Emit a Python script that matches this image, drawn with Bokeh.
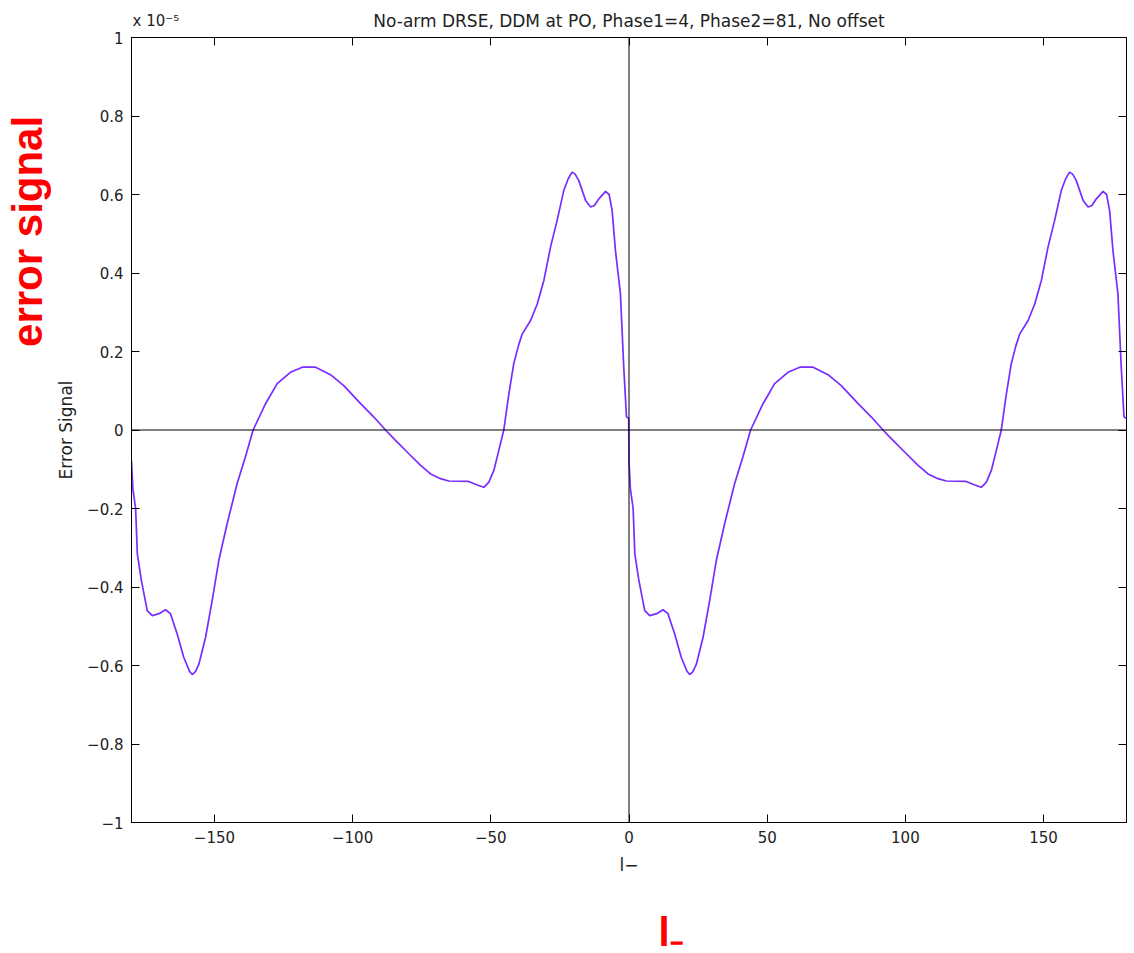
from bokeh.plotting import figure
from bokeh.models import Span, Label, LinearAxis, FixedTicker, Range1d
from bokeh.embed import file_html
from bokeh.resources import INLINE

# phase l- (degrees), first half period
phase_left = [-180, -179.5, -178.5, -177.9, -176.5, -175.5, -174.3, -172.5, -170, -167.7,
              -165.9, -163.5, -161.1, -159, -158, -156.8, -155.6, -153.2, -150.8, -148.4,
              -145.4, -141.8, -138.8, -136, -131.5, -127.3, -122.5, -118.2, -113.4, -108,
              -103.2, -97.1, -92.3, -88.1, -85.1, -80, -75.4, -71.8, -68.2, -65.2,
              -58, -54.9, -52.5, -50.7, -48.9, -47.1, -45.3, -43.5, -41.7, -40,
              -38.6, -35.6, -33.2, -30.8, -28.4, -26, -23.6, -22, -20.6, -19.5,
              -18.2, -15.7, -13.9, -12.5, -10.9, -8.5, -7.2, -6.1, -4.9, -3.1,
              -1.9, -0.9, -0.1]
# error signal (x 1e-5)
signal_left = [-0.08, -0.15, -0.20, -0.315, -0.38, -0.417, -0.46, -0.473, -0.468, -0.458,
               -0.468, -0.519, -0.579, -0.615, -0.623, -0.615, -0.596, -0.528, -0.434, -0.332,
               -0.239, -0.137, -0.069, 0.0, 0.067, 0.118, 0.147, 0.160, 0.160, 0.141,
               0.113, 0.067, 0.033, 0.0, -0.022, -0.058, -0.090, -0.112, -0.124, -0.130,
               -0.131, -0.140, -0.146, -0.133, -0.103, -0.052, 0.0, 0.09, 0.169, 0.215,
               0.245, 0.279, 0.321, 0.381, 0.466, 0.534, 0.610, 0.640, 0.657, 0.652,
               0.636, 0.585, 0.568, 0.572, 0.589, 0.608, 0.600, 0.559, 0.457, 0.347,
               0.16, 0.033, 0.03]
# second half period
phase_right = [0, 0.5, 1.5, 2.1, 3.5, 4.5, 5.7, 7.5, 10, 12.3,
               14.1, 16.5, 18.9, 21, 22, 23.2, 24.4, 26.8, 29.2, 31.6,
               34.6, 38.2, 41.2, 44, 48.5, 52.7, 57.5, 61.8, 66.6, 72,
               76.8, 82.9, 87.7, 91.9, 94.9, 100, 104.6, 108.2, 111.8, 114.8,
               122, 125.1, 127.5, 129.3, 131.1, 132.9, 134.7, 136.5, 138.3, 140,
               141.4, 144.4, 146.8, 149.2, 151.6, 154, 156.4, 158, 159.4, 160.5,
               161.8, 164.3, 166.1, 167.5, 169.1, 171.5, 172.8, 173.9, 175.1, 176.9,
               178.1, 179.1, 179.9]
signal_right = [-0.08, -0.15, -0.20, -0.315, -0.38, -0.417, -0.46, -0.473, -0.468, -0.458,
                -0.468, -0.519, -0.579, -0.615, -0.623, -0.615, -0.596, -0.528, -0.434, -0.332,
                -0.239, -0.137, -0.069, 0.0, 0.067, 0.118, 0.147, 0.160, 0.160, 0.141,
                0.113, 0.067, 0.033, 0.0, -0.022, -0.058, -0.090, -0.112, -0.124, -0.130,
                -0.131, -0.140, -0.146, -0.133, -0.103, -0.052, 0.0, 0.09, 0.169, 0.215,
                0.245, 0.279, 0.321, 0.381, 0.466, 0.534, 0.610, 0.640, 0.657, 0.652,
                0.636, 0.585, 0.568, 0.572, 0.589, 0.608, 0.600, 0.559, 0.457, 0.347,
                0.16, 0.033, 0.03]

x_ticks = [-150, -100, -50, 0, 50, 100, 150]
x_tick_labels = ["\u2212150", "\u2212100", "\u221250", "0", "50", "100", "150"]
y_ticks = [-1.0, -0.8, -0.6, -0.4, -0.2, 0.0, 0.2, 0.4, 0.6, 0.8, 1.0]
y_tick_labels = ["\u22121", "\u22120.8", "\u22120.6", "\u22120.4", "\u22120.2", "0",
                 "0.2", "0.4", "0.6", "0.8", "1"]

title_text = "No-arm DRSE, DDM at PO, Phase1=4, Phase2=81, No offset"
scale_text = "x 10\u207b\u2075"
FONT = "DejaVu Sans"
RED_FONT = "Liberation Sans"
INK = "#222222"

p = figure(width=1134, height=953, output_backend="svg", toolbar_location=None,
           x_range=Range1d(-180, 180), y_range=Range1d(-1, 1),
           min_border_left=131, min_border_right=8, min_border_top=37,
           min_border_bottom=131, background_fill_color="white",
           border_fill_color="white")
p.xgrid.visible = False
p.ygrid.visible = False
p.outline_line_color = "black"
p.outline_line_width = 1

p.title.text = title_text
p.title.align = "center"
p.title.text_font = FONT
p.title.text_font_size = "17px"
p.title.text_font_style = "normal"
p.title.text_color = INK
p.title.standoff = 14


def style_axis(ax, show_labels=True):
    ax.axis_line_color = "black"
    ax.major_tick_line_color = "black"
    ax.major_tick_in = 8
    ax.major_tick_out = 0
    ax.minor_tick_line_color = None
    ax.major_label_text_font = FONT
    if show_labels:
        ax.major_label_text_color = INK
        ax.major_label_text_font_size = "15px"
        ax.major_label_standoff = 8
    else:
        ax.major_label_text_color = None
        ax.major_label_text_font_size = "0px"
        ax.major_label_standoff = 0


p.xaxis.ticker = FixedTicker(ticks=x_ticks)
p.xaxis.major_label_overrides = dict(zip(x_ticks, x_tick_labels))
p.yaxis.ticker = FixedTicker(ticks=y_ticks)
p.yaxis.major_label_overrides = dict(zip(y_ticks, y_tick_labels))
style_axis(p.xaxis[0])
style_axis(p.yaxis[0])
p.xaxis.axis_label = "l\u2212"
p.yaxis.axis_label = "Error Signal"
for ax in (p.xaxis[0], p.yaxis[0]):
    ax.axis_label_text_font = FONT
    ax.axis_label_text_font_style = "normal"
    ax.axis_label_text_font_size = "17px"
    ax.axis_label_text_color = INK
p.xaxis.axis_label_standoff = 9
p.yaxis.axis_label_standoff = 8

top_ax = LinearAxis(ticker=FixedTicker(ticks=x_ticks))
style_axis(top_ax, show_labels=False)
p.add_layout(top_ax, "above")
right_ax = LinearAxis(ticker=FixedTicker(ticks=y_ticks))
style_axis(right_ax, show_labels=False)
p.add_layout(right_ax, "right")

p.add_layout(Span(location=0, dimension="width", line_color="black", line_width=1))
p.add_layout(Span(location=0, dimension="height", line_color="black", line_width=1))

p.line(phase_left + phase_right, signal_left + signal_right,
       line_color="#7a2cff", line_width=1.7)

# free texts, placed in side panels (not clipped), positioned in data units
p.add_layout(Label(x=-179.6, y=1.041, text=scale_text,
                   text_align="left", text_baseline="alphabetic",
                   text_font=FONT, text_font_size="15px", text_color=INK), "below")
p.add_layout(Label(x=10.7, y=-1.2778, text="l\u208b",
                   text_align="left", text_baseline="alphabetic",
                   text_font=RED_FONT, text_font_style="bold", text_font_size="40px",
                   text_color="#ff0000"), "below")
p.add_layout(Label(x=-217.6, y=0.506, text="error signal", angle=1.5707963,
                   text_align="center", text_baseline="alphabetic",
                   text_font=RED_FONT, text_font_style="bold", text_font_size="42px",
                   text_color="#ff0000"), "left")

open("out.html", "w").write(file_html(p, INLINE))
